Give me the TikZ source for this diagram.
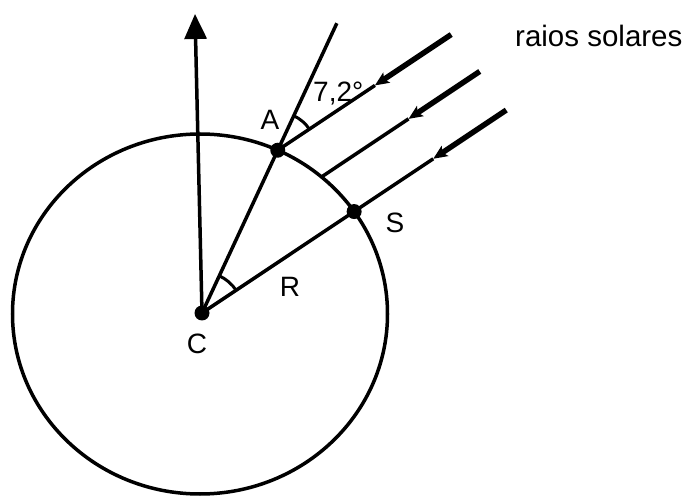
\documentclass[tikz,border=0pt]{standalone}
\usepackage{fontspec}
\setmainfont{Liberation Sans}
\usetikzlibrary{arrows.meta,calc,angles}
\begin{document}
\begin{tikzpicture}[x=1pt,y=1pt,
  thinline/.style={line width=3.5pt},
  thickline/.style={line width=5.5pt},
  dot/.style={circle,fill=black,inner sep=0pt,minimum size=15pt},
  lbl/.style={inner sep=0pt,font=\fontsize{28}{33}\selectfont},
  midtip/.style={-{Stealth[length=14pt,width=12pt,inset=3pt]}},
  anglemark/.style={draw,line width=3pt}]
\useasboundingbox (0,0) rectangle (686,496);
\coordinate (O) at (200,182);
\coordinate (C) at (202,183);
\coordinate (A) at ($(O)+(65.5:187.5 and 180)$);
\coordinate (S) at ($(O)+(34.7:187.5 and 180)$);
\coordinate (E2) at ($(O)+(49.6:187.5 and 180)$);
\coordinate (d) at ($(S)-(C)$);
\coordinate (Atop) at ($(C)!1.78!(A)$);
\coordinate (N) at (195,482);
\coordinate (R1) at ($(A)+1.14*(d)$);
\coordinate (R2) at ($(E2)+1.04*(d)$);
\coordinate (R3) at ($(C)!2.0!(S)$);
\coordinate (M1) at ($(R1)!0.44!(A)$);
\coordinate (M2) at ($(R2)!0.45!(E2)$);
\coordinate (M3) at ($(R3)!0.48!(S)$);
% earth
\draw[thinline] (O) ellipse [x radius=187.5, y radius=180];
% vertical arrow
\draw[thinline,-{Triangle[length=25pt,width=22pt]}] (C) -- (N);
% line through A
\draw[thinline] (C) -- (Atop);
% sun rays
\draw[thickline,midtip] (R1) -- (M1);
\draw[thinline] (M1) -- (A);
\draw[thickline,midtip] (R2) -- (M2);
\draw[thinline] (M2) -- (E2);
\draw[thickline,midtip] (R3) -- (M3);
\draw[thinline] (M3) -- (S) -- (C);
% angle marks
\pic[anglemark,angle radius=38pt] {angle=R1--A--Atop};
\pic[anglemark,angle radius=41pt] {angle=S--C--A};
% dots
\node[dot] (dA) at (A) {};
\node[dot] (dS) at (S) {};
\node[dot] (dC) at (C) {};
% labels
\node[lbl] (lA) at (270,376) {A};
\node[lbl] (lS) at (395,273) {S};
\node[lbl] (lC) at (197,152) {C};
\node[lbl] (lR) at (290,209) {R};
\node[lbl,anchor=base west] (lang) at (313,394) {7,2°};
\node[lbl,anchor=base west,font=\fontsize{29.5}{34}\selectfont] (lsun) at (515,449) {raios solares};
\end{tikzpicture}
\end{document}
